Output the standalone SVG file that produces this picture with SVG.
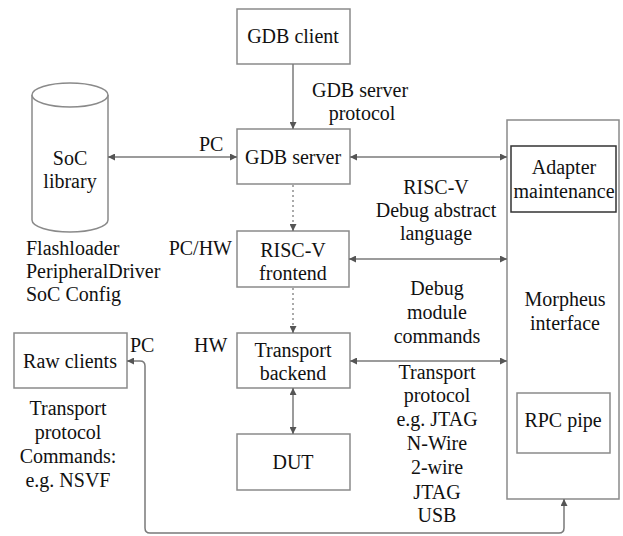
<svg xmlns="http://www.w3.org/2000/svg" width="623" height="536" viewBox="0 0 623 536">
<defs>
<marker id="ah" viewBox="0 0 10 10" refX="10" refY="5" markerWidth="7" markerHeight="7" orient="auto-start-reverse" markerUnits="userSpaceOnUse">
<path d="M0,0 L10,5 L0,10 z" fill="#555"/>
</marker>
</defs>
<style>
.box{fill:#fff;stroke:#8a8a8a;stroke-width:1.5}
.dark{fill:#fff;stroke:#333;stroke-width:1.5}
.ln{fill:none;stroke:#7a7a7a;stroke-width:1.5}
.dot{fill:none;stroke:#aaa;stroke-width:2;stroke-dasharray:2 3}
text{font-family:"Liberation Serif","Times New Roman",serif;font-size:20px;fill:#111}
.c{text-anchor:middle}
.e{text-anchor:end}
</style>
<rect width="623" height="536" fill="#fff"/>

<g id="morpheus">
<rect class="box" x="507" y="120" width="112" height="379"/>
<text class="c" x="565" y="306">Morpheus</text>
<text class="c" x="565" y="330">interface</text>
</g>
<g id="adapter">
<rect class="dark" x="511" y="146" width="105" height="66"/>
<text class="c" x="564" y="174">Adapter</text>
<text class="c" x="564" y="198">maintenance</text>
</g>
<g id="rpc">
<rect class="box" x="517" y="393" width="93" height="60"/>
<text class="c" x="563" y="427">RPC pipe</text>
</g>

<g id="gdbclient">
<rect class="box" x="237" y="9" width="113" height="55"/>
<text class="c" x="293" y="43">GDB client</text>
</g>
<g id="gdbserver">
<rect class="box" x="237" y="129" width="113" height="55"/>
<text class="c" x="293" y="164">GDB server</text>
</g>
<g id="frontend">
<rect class="box" x="237" y="231" width="112" height="56"/>
<text class="c" x="293" y="257">RISC-V</text>
<text class="c" x="293" y="280">frontend</text>
</g>
<g id="backend">
<rect class="box" x="237" y="333" width="113" height="55"/>
<text class="c" x="293" y="357">Transport</text>
<text class="c" x="293" y="380">backend</text>
</g>
<g id="dut">
<rect class="box" x="237" y="434" width="113" height="56"/>
<text class="c" x="293" y="469">DUT</text>
</g>

<g id="soclib">
<path class="box" d="M32,95 V220 A38,12 0 0 0 108,220 V95"/>
<ellipse class="box" cx="70" cy="95" rx="38" ry="12"/>
<text class="c" x="70" y="165">SoC</text>
<text class="c" x="70" y="188">library</text>
</g>

<g id="rawclients">
<rect class="box" x="14" y="333" width="113" height="55"/>
<text class="c" x="70" y="368">Raw clients</text>
</g>

<g id="connectors">
<line class="ln" x1="293" y1="64" x2="293" y2="129" marker-end="url(#ah)"/>
<line class="ln" x1="108" y1="157" x2="237" y2="157" marker-start="url(#ah)" marker-end="url(#ah)"/>
<line class="ln" x1="350" y1="157" x2="507" y2="157" marker-start="url(#ah)" marker-end="url(#ah)"/>
<line class="dot" x1="293" y1="185" x2="293" y2="224"/>
<line class="ln" x1="293" y1="224" x2="293" y2="231" stroke="none" marker-end="url(#ah)"/>
<line class="dot" x1="293" y1="288" x2="293" y2="326"/>
<line class="ln" x1="293" y1="326" x2="293" y2="333" stroke="none" marker-end="url(#ah)"/>
<line class="ln" x1="349" y1="259" x2="507" y2="259" marker-start="url(#ah)" marker-end="url(#ah)"/>
<line class="ln" x1="350" y1="361" x2="507" y2="361" marker-start="url(#ah)" marker-end="url(#ah)"/>
<line class="ln" x1="293" y1="388" x2="293" y2="434" marker-start="url(#ah)" marker-end="url(#ah)"/>
<path class="ln" d="M127,361 H140 Q145,361 145,366 V528 Q145,533 150,533 H559 Q564,533 564,528 V499" marker-start="url(#ah)" marker-end="url(#ah)"/>
</g>

<g id="labels">
<text class="c" x="360" y="97">GDB server</text>
<text class="c" x="362" y="120">protocol</text>
<text x="199" y="151">PC</text>
<text class="c" x="436" y="194">RISC-V</text>
<text class="c" x="436" y="217">Debug abstract</text>
<text class="c" x="436" y="240">language</text>
<text class="e" x="232" y="255">PC/HW</text>
<text x="26" y="255">Flashloader</text>
<text x="26" y="278">PeripheralDriver</text>
<text x="26" y="301">SoC Config</text>
<text class="c" x="437" y="295">Debug</text>
<text class="c" x="437" y="319">module</text>
<text class="c" x="437" y="343">commands</text>
<text x="130" y="352">PC</text>
<text x="194" y="352">HW</text>
<text class="c" x="68" y="415">Transport</text>
<text class="c" x="68" y="439">protocol</text>
<text class="c" x="68" y="463">Commands:</text>
<text class="c" x="68" y="487">e.g. NSVF</text>
<text class="c" x="437" y="379">Transport</text>
<text class="c" x="437" y="402">protocol</text>
<text class="c" x="437" y="426">e.g. JTAG</text>
<text class="c" x="437" y="450">N-Wire</text>
<text class="c" x="437" y="474">2-wire</text>
<text class="c" x="437" y="499">JTAG</text>
<text class="c" x="437" y="522">USB</text>
</g>
</svg>
